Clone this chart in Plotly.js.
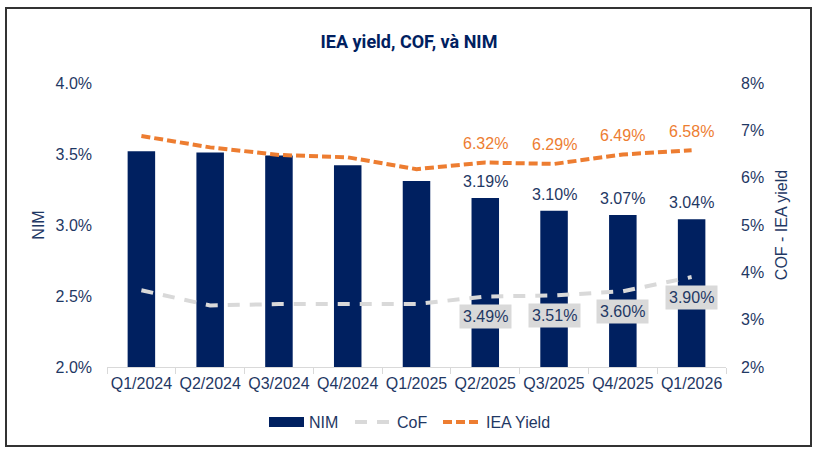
<!DOCTYPE html>
<html>
<head>
<meta charset="utf-8">
<script src="https://cdn.plot.ly/plotly-3.0.1.min.js"></script>
<style>
  html, body { margin: 0; padding: 0; background: #fff; }
  #wrap { position: relative; width: 818px; height: 454px; }
  #chart { width: 818px; height: 454px; }
  #frame { position: absolute; left: 5px; top: 7px; width: 803px; height: 436px;
           border: 2px solid #333; pointer-events: none; box-sizing: content-box; }
</style>
</head>
<body>
<div id="wrap">
  <div id="chart"></div>
  <div id="frame"></div>
</div>
<script>
// ---- data ----
const quarters = ["Q1/2024","Q2/2024","Q3/2024","Q4/2024","Q1/2025","Q2/2025","Q3/2025","Q4/2025","Q1/2026"];
const nim      = [3.52, 3.51, 3.49, 3.42, 3.31, 3.19, 3.10, 3.07, 3.04];
const cof      = [3.62, 3.30, 3.33, 3.33, 3.33, 3.49, 3.51, 3.60, 3.90];
const ieaYield = [6.88, 6.64, 6.48, 6.43, 6.18, 6.32, 6.29, 6.49, 6.58];
const labelShown = [false, false, false, false, false, true, true, true, true];
const seriesNames = ["NIM", "CoF", "IEA Yield"];

const navy = "#002060";
const txt = "#1f3864";
const orange = "#ED7D31";
const gray = "#D9D9D9";
const fontFam = "Liberation Sans, Arial, sans-serif";

const fmt = v => v.toFixed(2) + "%";

const traces = [
  {
    type: "bar", name: seriesNames[0], x: quarters, y: nim, yaxis: "y",
    marker: { color: navy }, width: 0.4
  },
  {
    type: "scatter", mode: "lines", name: seriesNames[1], x: quarters, y: cof, yaxis: "y2",
    line: { color: gray, width: 4, dash: "12px,10px" }
  },
  {
    type: "scatter", mode: "lines", name: seriesNames[2], x: quarters, y: ieaYield, yaxis: "y2",
    line: { color: orange, width: 4, dash: "9px,4px" }
  }
];

const annotations = [];
quarters.forEach((q, i) => {
  if (!labelShown[i]) return;
  annotations.push({
    x: q, y: nim[i], xref: "x", yref: "y", yanchor: "bottom",
    text: fmt(nim[i]), showarrow: false, yshift: 6,
    font: { family: fontFam, size: 16, color: txt }
  });
  annotations.push({
    x: q, y: ieaYield[i], xref: "x", yref: "y2",
    text: fmt(ieaYield[i]), showarrow: false, yshift: 19,
    font: { family: fontFam, size: 16, color: orange }
  });
  annotations.push({
    x: q, y: cof[i], xref: "x", yref: "y2",
    text: fmt(cof[i]), showarrow: false, yshift: -20,
    bgcolor: gray, borderpad: 3,
    font: { family: fontFam, size: 16, color: txt }
  });
});

// custom legend (paper coordinates derived from pixel positions)
const PL = 107, PW = 619, PB = 367, PH = 284;
const px = v => (v - PL) / PW;
const py = v => (PB - v) / PH;
const legY = 422;
const shapes = [
  { type: "rect", xref: "paper", yref: "paper", x0: px(269), x1: px(304), y0: py(427), y1: py(417),
    fillcolor: navy, line: { width: 0 } },
  { type: "line", xref: "paper", yref: "paper", x0: px(355), x1: px(392), y0: py(legY), y1: py(legY),
    line: { color: gray, width: 4, dash: "12px,10px" } },
  { type: "line", xref: "paper", yref: "paper", x0: px(443), x1: px(480), y0: py(legY), y1: py(legY),
    line: { color: orange, width: 4, dash: "9px,4px" } }
];
[[307, seriesNames[0]], [395, seriesNames[1]], [484, seriesNames[2]]].forEach(([xp, t]) => {
  annotations.push({
    xref: "paper", yref: "paper", x: px(xp), y: py(legY), xanchor: "left", yanchor: "middle",
    text: t, showarrow: false, font: { family: fontFam, size: 16, color: txt }
  });
});

const layout = {
  width: 818, height: 454,
  margin: { l: 107, r: 92, t: 83, b: 87 },
  paper_bgcolor: "#fff", plot_bgcolor: "#fff",
  title: {
    text: "<b>IEA yield, COF, và NIM</b>",
    font: { family: "Liberation Sans Narrow, Roboto, Arial, sans-serif", size: 18, color: navy },
    x: 0.5, xanchor: "center", y: 1 - 42/454, yanchor: "middle", yref: "container"
  },
  xaxis: {
    type: "category", showgrid: false, zeroline: false,
    showline: true, linecolor: "#d9d9d9", linewidth: 1,
    ticks: "outside", tickson: "boundaries", ticklen: 6, tickcolor: "#d9d9d9",
    tickfont: { family: fontFam, size: 16, color: txt },
    tickangle: 0, ticklabelstandoff: 2
  },
  yaxis: {
    range: [2, 4], dtick: 0.5, tickformat: ".1f", ticksuffix: "%",
    showgrid: false, zeroline: false, showline: false,
    tickfont: { family: fontFam, size: 16, color: txt },
    ticklabelstandoff: 14,
    title: { text: "NIM", font: { family: fontFam, size: 16, color: txt }, standoff: 6 }
  },
  yaxis2: {
    overlaying: "y", side: "right",
    range: [2, 8], dtick: 1, tickformat: "d", ticksuffix: "%",
    showgrid: false, zeroline: false, showline: false,
    tickfont: { family: fontFam, size: 16, color: txt },
    ticklabelstandoff: 14,
    title: { text: "COF - IEA yield", font: { family: fontFam, size: 16, color: txt }, standoff: 12 }
  },
  showlegend: false,
  annotations: annotations,
  shapes: shapes
};

Plotly.newPlot("chart", traces, layout, { displayModeBar: false, staticPlot: true });
</script>
</body>
</html>
